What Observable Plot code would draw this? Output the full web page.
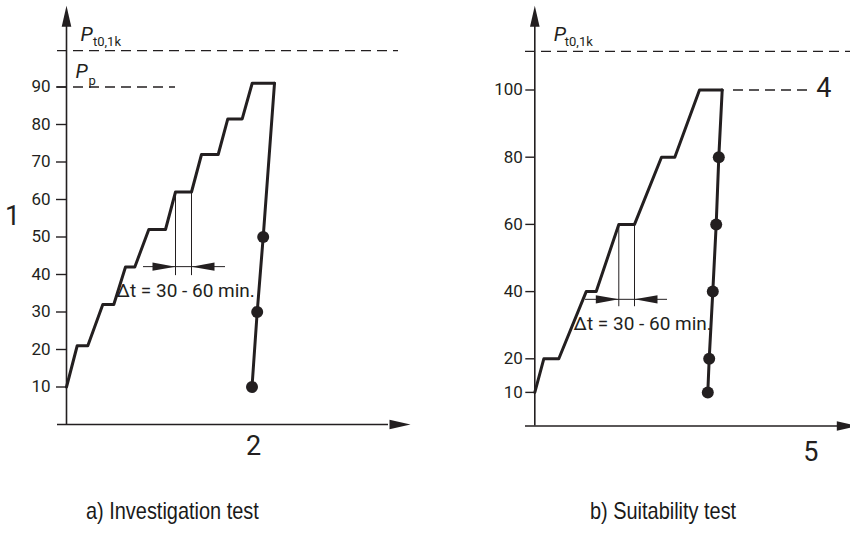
<!DOCTYPE html>
<html><head><meta charset="utf-8">
<script src="https://cdn.jsdelivr.net/npm/d3@7"></script>
<script src="https://cdn.jsdelivr.net/npm/@observablehq/plot@0.6"></script>
<style>
body{margin:0;background:#fff;}
#wrap{position:relative;width:850px;height:535px;overflow:hidden;background:#fff;}
#left,#right{position:absolute;top:0;}
#left{left:0px}
#right{left:425px}
.cap{position:absolute;top:497px;white-space:nowrap;font-family:"Liberation Sans",Arial,sans-serif;font-size:24px;color:#1a1a1a;transform:scaleX(0.83);transform-origin:0 0;}
</style></head><body>
<div id="wrap">
<div id="left"></div><div id="right"></div>
<div class="cap" id="capA" style="left:86px">a) Investigation test</div>
<div class="cap" id="capB" style="left:590px">b) Suitability test</div>
</div>
<script>
// ---------- data: a) Investigation test ----------
const aLoadTime  = [0, 1.07, 2.13, 3.63, 4.73, 5.9, 6.83, 8.23, 9.9, 10.9, 12.5, 13.5, 15.17, 16.13, 17.57, 18.57, 20.8];
const aLoadForce = [10, 21, 21, 32, 32, 42, 42, 52, 52, 62, 62, 72, 72, 81.5, 81.5, 91, 91];
const aUnloadTime  = [20.8, 19.67, 19.07, 18.55];
const aUnloadForce = [91, 50, 30, 10];
const aTicks = [10, 20, 30, 40, 50, 60, 70, 80, 90];
const aPt = 99.7;          // P t0,1k level
const aPp = 90;            // P p level
const aHold = [10.9, 12.5]; // hold interval (start, end)
const aHoldLevel = 62;
const aDimLevel = 42.1;
const aDimBottom = 39.7;
const aDimExtent = [7.7, 15.9];

// ---------- data: b) Suitability test ----------
const bLoadTime  = [0, 0.9, 2.4, 5.14, 6.14, 8.4, 9.97, 12.67, 14.0, 16.47, 18.74];
const bLoadForce = [10, 20, 20, 40, 40, 60, 60, 80, 80, 100, 100];
const bUnloadTime  = [18.74, 18.4, 18.14, 17.8, 17.44, 17.3];
const bUnloadForce = [100, 80, 60, 40, 20, 10];
const bTicks = [10, 20, 40, 60, 80, 100];
const bPt = 111.5;
const bTest = 100;
const bTestExtent = [19.87, 27.6];
const bHold = [8.4, 9.97];
const bHoldLevel = 60;
const bDimLevel = 37.7;
const bDimBottom = 35.5;
const bDimExtent = [5.07, 13.27];

const ink = "#231f20";
const font = "Roboto, 'Noto Sans', sans-serif";

const head = {
  draw(ctx, l, r) {
    ctx.moveTo(0, -l);
    ctx.lineTo(-r, 0);
    ctx.lineTo(r, 0);
    ctx.closePath();
  }
};

function rows(xs, ys) { return xs.map((x, i) => ({x, y: ys[i]})); }

function arrowHeads(list, len, r) {
  return Plot.vector(list, {x: "x", y: "y", rotate: "rot", length: len, r, anchor: "end",
    shape: head, fill: ink, stroke: "none"});
}

// ---------- panel a ----------
const aLoad = rows(aLoadTime, aLoadForce);
const aUnload = rows(aUnloadTime, aUnloadForce);
const plotA = Plot.plot({
  width: 425, height: 470, marginLeft: 66, marginRight: 0, marginTop: 0, marginBottom: 0,
  style: {fontFamily: font, color: ink, background: "white"},
  x: {type: "linear", domain: [0, 10], range: [66, 166], axis: null},
  y: {type: "linear", domain: [0, 90], range: [424, 86.5], axis: null},
  marks: [
    // reference levels
    Plot.ruleY([aPt], {x1: -0.9, x2: 33.2, stroke: ink, strokeWidth: 1.4, strokeDasharray: "10,6"}),
    Plot.ruleY([aPp], {x1: -0.9, x2: aHold[0], stroke: ink, strokeWidth: 1.4, strokeDasharray: "10,6"}),
    // axes
    Plot.ruleX([0], {y1: 0, y2: 106.4, stroke: ink, strokeWidth: 1.6}),
    Plot.ruleY([0], {x1: -0.9, x2: 32.2, stroke: ink, strokeWidth: 1.6}),
    arrowHeads([{x: 0, y: 111.7, rot: 0}, {x: 34.4, y: 0, rot: 90}], 21, 4.8),
    Plot.axisY({ticks: aTicks, tickSize: 10, tickPadding: 6, fontSize: 17, stroke: ink, strokeWidth: 1.4, fill: ink, tickFormat: d3.format("d"), label: null}),
    // hold interval dimension
    Plot.ruleX(aHold, {y1: aDimBottom, y2: aHoldLevel, stroke: ink, strokeWidth: 1}),
    Plot.ruleY([aDimLevel], {x1: aDimExtent[0], x2: aDimExtent[1], stroke: ink, strokeWidth: 1}),
    arrowHeads([{x: aHold[0], y: aDimLevel, rot: 90}, {x: aHold[1], y: aDimLevel, rot: 270}], 23, 4.2),
    Plot.text(["\u0394t = 30 - 60 min."], {x: 5.0, y: 35.5, textAnchor: "start", fontSize: 19, fill: ink}),
    // curves
    Plot.line(aLoad, {x: "x", y: "y", stroke: ink, strokeWidth: 3, strokeLinejoin: "round"}),
    Plot.line(aUnload, {x: "x", y: "y", stroke: ink, strokeWidth: 3, strokeLinejoin: "round"}),
    Plot.dot(aUnload.slice(1), {x: "x", y: "y", r: 6, fill: ink, stroke: "none"}),
    // labels
    Plot.text(["P"], {x: 1.4, y: 102.4, textAnchor: "start", lineAnchor: "bottom", fontSize: 20, fontStyle: "italic", fill: ink}),
    Plot.text(["t0,1k"], {x: 2.65, y: 101.0, textAnchor: "start", lineAnchor: "bottom", fontSize: 13, fill: ink}),
    Plot.text(["P"], {x: 0.9, y: 92.5, textAnchor: "start", lineAnchor: "bottom", fontSize: 20, fontStyle: "italic", fill: ink}),
    Plot.text(["p"], {x: 2.2, y: 90.6, textAnchor: "start", lineAnchor: "bottom", fontSize: 13, fill: ink}),
    Plot.text(["1"], {x: -5.4, y: 55.5, fontSize: 27, fill: ink}),
    Plot.text(["2"], {x: 18.7, y: -5.9, fontSize: 27, fill: ink})
  ]
});
document.getElementById("left").append(plotA);

// ---------- panel b ----------
const bLoad = rows(bLoadTime, bLoadForce);
const bUnload = rows(bUnloadTime, bUnloadForce);
const plotB = Plot.plot({
  width: 425, height: 470, marginLeft: 109.3, marginRight: 0, marginTop: 0, marginBottom: 0,
  style: {fontFamily: font, color: ink, background: "white"},
  x: {type: "linear", domain: [0, 10], range: [109.3, 209.3], axis: null},
  y: {type: "linear", domain: [0, 100], range: [425.5, 89.5], axis: null},
  marks: [
    Plot.ruleY([bPt], {x1: -0.93, x2: 31.6, stroke: ink, strokeWidth: 1.4, strokeDasharray: "10,6"}),
    Plot.ruleY([bTest], {x1: bTestExtent[0], x2: bTestExtent[1], stroke: ink, strokeWidth: 1.4, strokeDasharray: "10,6"}),
    Plot.ruleX([0], {y1: 0, y2: 119.2, stroke: ink, strokeWidth: 1.6}),
    Plot.ruleY([0], {x1: -0.93, x2: 30.3, stroke: ink, strokeWidth: 1.6}),
    arrowHeads([{x: 0, y: 125.1, rot: 0}, {x: 32.3, y: 0, rot: 90}], 21, 4.8),
    Plot.axisY({ticks: bTicks, tickSize: 9, tickPadding: 3, fontSize: 17, stroke: ink, strokeWidth: 1.4, fill: ink, tickFormat: d3.format("d"), label: null}),
    Plot.ruleX(bHold, {y1: bDimBottom, y2: bHoldLevel, stroke: ink, strokeWidth: 1}),
    Plot.ruleY([bDimLevel], {x1: bDimExtent[0], x2: bDimExtent[1], stroke: ink, strokeWidth: 1}),
    arrowHeads([{x: bHold[0], y: bDimLevel, rot: 90}, {x: bHold[1], y: bDimLevel, rot: 270}], 23, 4.2),
    Plot.text(["\u0394t = 30 - 60 min."], {x: 3.87, y: 30.5, textAnchor: "start", fontSize: 19, fill: ink}),
    Plot.line(bLoad, {x: "x", y: "y", stroke: ink, strokeWidth: 3, strokeLinejoin: "round"}),
    Plot.line(bUnload, {x: "x", y: "y", stroke: ink, strokeWidth: 3, strokeLinejoin: "round"}),
    Plot.dot(bUnload.slice(1), {x: "x", y: "y", r: 6, fill: ink, stroke: "none"}),
    Plot.text(["P"], {x: 1.9, y: 114.7, textAnchor: "start", lineAnchor: "bottom", fontSize: 20, fontStyle: "italic", fill: ink}),
    Plot.text(["t0,1k"], {x: 3.0, y: 113.2, textAnchor: "start", lineAnchor: "bottom", fontSize: 13, fill: ink}),
    Plot.text(["4"], {x: 28.9, y: 100.5, fontSize: 27, fill: ink}),
    Plot.text(["5"], {x: 27.6, y: -7.9, fontSize: 27, fill: ink})
  ]
});
document.getElementById("right").append(plotB);
</script>
</body></html>
